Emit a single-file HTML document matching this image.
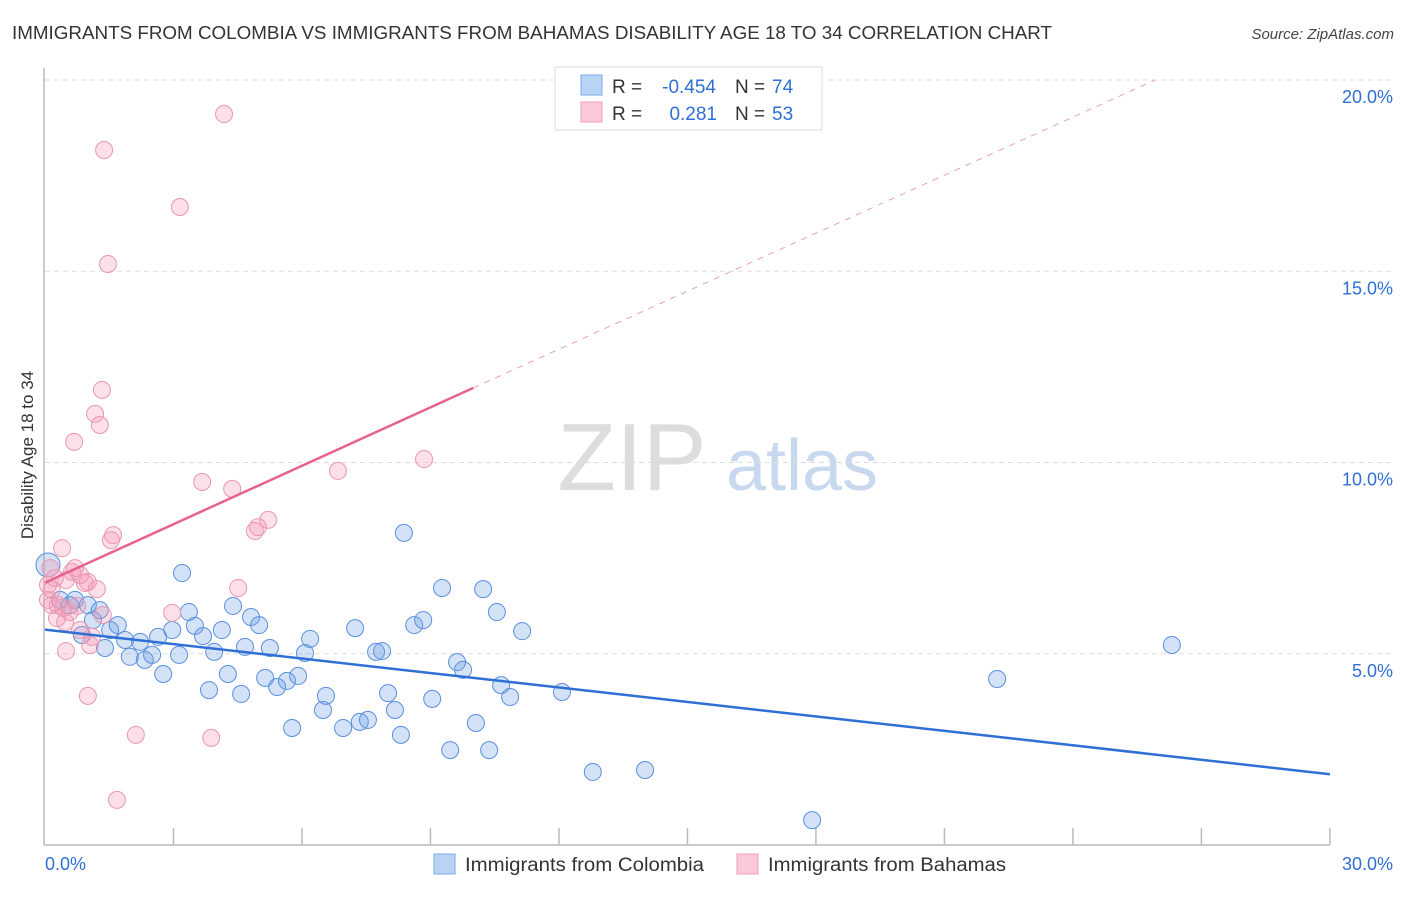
<!DOCTYPE html>
<html><head><meta charset="utf-8"><style>
body{margin:0;background:#fff;font-family:"Liberation Sans",sans-serif}
svg text{font-family:"Liberation Sans",sans-serif}
</style></head><body>
<svg id="chart" width="1406" height="892" xmlns="http://www.w3.org/2000/svg">
<text x="12" y="39" font-size="18" fill="#333" textLength="1040" lengthAdjust="spacingAndGlyphs">IMMIGRANTS FROM COLOMBIA VS IMMIGRANTS FROM BAHAMAS DISABILITY AGE 18 TO 34 CORRELATION CHART</text>
<text x="1394" y="39" font-size="15" fill="#444" text-anchor="end" font-style="italic">Source: ZipAtlas.com</text>
<g>
<text x="632" y="490" font-size="96" fill="#ddd" text-anchor="middle" font-family="Liberation Serif,serif">ZIP</text>
<text x="802" y="490" font-size="72" fill="#c8d8ef" text-anchor="middle">atlas</text>
</g>
<g id="grid"></g>
<g id="axes"></g>
<g id="pts"></g>
<g id="trend"></g>
<text transform="translate(33,455) rotate(-90)" font-size="17" fill="#333" text-anchor="middle">Disability Age 18 to 34</text>
<g>
<rect x="555" y="67" width="267" height="63" fill="#fff" stroke="#ddd"/>
<rect x="581" y="75" width="21" height="20" fill="#b9d3f5" stroke="#7aa8e8"/>
<rect x="581" y="102" width="21" height="20" fill="#fbc9d7" stroke="#f0a0b8"/>
<text x="612" y="93" font-size="19" fill="#333">R =</text>
<text x="716" y="93" font-size="19" fill="#2f6fd6" text-anchor="end">-0.454</text>
<text x="735" y="93" font-size="19" fill="#333">N =</text>
<text x="772" y="93" font-size="19" fill="#2f6fd6">74</text>
<text x="612" y="120" font-size="19" fill="#333">R =</text>
<text x="717" y="120" font-size="19" fill="#2f6fd6" text-anchor="end">0.281</text>
<text x="735" y="120" font-size="19" fill="#333">N =</text>
<text x="772" y="120" font-size="19" fill="#2f6fd6">53</text>
</g>
<g>
<rect x="434" y="854" width="21" height="20" fill="#b9d3f5" stroke="#7aa8e8"/>
<text x="465" y="871" font-size="19" fill="#333" textLength="239" lengthAdjust="spacingAndGlyphs">Immigrants from Colombia</text>
<rect x="737" y="854" width="21" height="20" fill="#fbc9d7" stroke="#f0a0b8"/>
<text x="768" y="871" font-size="19" fill="#333" textLength="238" lengthAdjust="spacingAndGlyphs">Immigrants from Bahamas</text>
</g>
</svg>
<script>
const blueX=[0.07,0.35,0.58,0.70,1.00,1.28,1.12,1.52,1.70,0.86,1.40,1.87,2.22,1.98,2.33,2.50,2.64,2.76,2.97,3.13,3.20,3.36,3.50,3.69,3.83,3.95,4.13,4.27,4.39,4.58,4.67,4.81,5.00,5.14,5.25,5.42,5.65,5.77,5.91,6.07,6.19,6.49,6.56,6.96,7.24,7.35,7.54,7.73,7.87,8.01,8.17,8.31,8.38,8.62,8.83,9.04,9.27,9.46,9.62,9.76,10.06,10.23,10.37,10.55,10.65,10.86,11.14,12.07,12.79,14.01,17.91,22.23,26.31];
const blueY=[7.32,6.41,6.27,6.41,6.27,6.14,5.88,5.62,5.75,5.49,5.15,5.36,5.31,4.92,4.84,4.97,5.44,4.47,5.62,4.97,7.11,6.09,5.73,5.46,4.05,5.05,5.62,4.47,6.25,3.95,5.18,5.96,5.75,4.37,5.15,4.13,4.29,3.06,4.42,5.02,5.39,3.53,3.90,3.06,5.67,3.22,3.27,5.05,5.07,3.97,3.53,2.88,8.16,5.75,5.88,3.82,6.72,2.48,4.78,4.58,3.19,6.69,2.48,6.09,4.18,3.87,5.59,4.00,1.91,1.96,0.65,4.34,5.23];
const pinkX=[4.18,1.38,3.15,1.47,1.33,1.17,1.28,0.68,3.67,4.37,5.21,4.97,4.90,1.59,1.54,6.84,8.85,0.40,0.12,0.23,0.16,0.49,0.63,0.70,0.82,0.93,1.00,1.21,0.07,0.30,0.42,0.58,0.75,0.28,0.47,0.82,1.10,1.05,0.49,1.35,2.97,4.51,1.00,2.12,3.88,1.68,0.07,0.16];
const pinkY=[19.11,18.17,16.68,15.19,11.90,11.27,10.98,10.54,9.49,9.31,8.50,8.31,8.21,8.10,7.97,9.78,10.09,7.76,7.24,6.98,6.67,6.93,7.14,7.24,7.06,6.85,6.88,6.69,6.41,6.27,6.20,6.09,6.25,5.93,5.83,5.62,5.44,5.23,5.07,6.01,6.07,6.72,3.90,2.88,2.80,1.18,6.80,6.27];
const yTicks=[5,10,15,20];
const yTickLabels=["5.0%","10.0%","15.0%","20.0%"];
const xTicks=[0,3,6,9,12,15,18,21,24,27,30];
const blueTrend=[[0,5.63],[30,1.85]];
const pinkTrendSolid=[[0,6.86],[10,11.95]];
const pinkTrendDash=[[10,11.95],[25.92,20]];

const X=v=>45+v*42.83, Y=v=>845-v*38.25;
const NS="http://www.w3.org/2000/svg";
function mk(p,t,a){const e=document.createElementNS(NS,t);for(const k in a)e.setAttribute(k,a[k]);p.appendChild(e);return e;}
const grid=document.getElementById('grid'),axes=document.getElementById('axes'),pts=document.getElementById('pts'),tr=document.getElementById('trend');
yTicks.forEach((v,i)=>{
 const l=mk(grid,'line',{x1:45,x2:1393,y1:Y(v),y2:Y(v),stroke:'#ddd','stroke-dasharray':'5,4'});
 
 
 const t=mk(axes,'text',{x:1393,y:Y(v)+23,'font-size':18,fill:'#2f6fd6','text-anchor':'end'});
 t.textContent=yTickLabels[i];
 
 
});
mk(axes,'line',{x1:44,x2:44,y1:68,y2:845,stroke:'#bbb','stroke-width':1.5});
mk(axes,'line',{x1:44,x2:1330,y1:845,y2:845,stroke:'#bbb','stroke-width':1.5});
xTicks.forEach(v=>{if(v>0){const l=mk(axes,'line',{x1:X(v),x2:X(v),y1:828,y2:845,stroke:'#bbb','stroke-width':1.5});
 
 }});
let t0=mk(axes,'text',{x:45,y:870,'font-size':18,fill:'#2f6fd6'});t0.textContent='0.0%';


let t1=mk(axes,'text',{x:1393,y:870,'font-size':18,fill:'#2f6fd6','text-anchor':'end'});t1.textContent='30.0%';


blueX.forEach((x,i)=>{const c=mk(pts,'circle',{cx:X(x),cy:Y(blueY[i]),r:i===0?12:8.5,fill:'rgba(110,160,230,0.3)',stroke:'#5a8fdf','stroke-width':1});
 
 });
pinkX.forEach((x,i)=>{const c=mk(pts,'circle',{cx:X(x),cy:Y(pinkY[i]),r:8.5,fill:'rgba(245,150,180,0.3)',stroke:'#ea98b2','stroke-width':1});
 
 });
let b=mk(tr,'line',{x1:X(blueTrend[0][0]),y1:Y(blueTrend[0][1]),x2:X(blueTrend[1][0]),y2:Y(blueTrend[1][1]),stroke:'#2f6fd6','stroke-width':2.5});


let p=mk(tr,'line',{x1:X(pinkTrendSolid[0][0]),y1:Y(pinkTrendSolid[0][1]),x2:X(pinkTrendSolid[1][0]),y2:Y(pinkTrendSolid[1][1]),stroke:'#e8628e','stroke-width':2.5});


let pd=mk(tr,'line',{x1:X(pinkTrendDash[0][0]),y1:Y(pinkTrendDash[0][1]),x2:X(pinkTrendDash[1][0]),y2:Y(pinkTrendDash[1][1]),stroke:'#e8a0b8','stroke-width':1,'stroke-dasharray':'6,6'});


</script>
</body></html>
